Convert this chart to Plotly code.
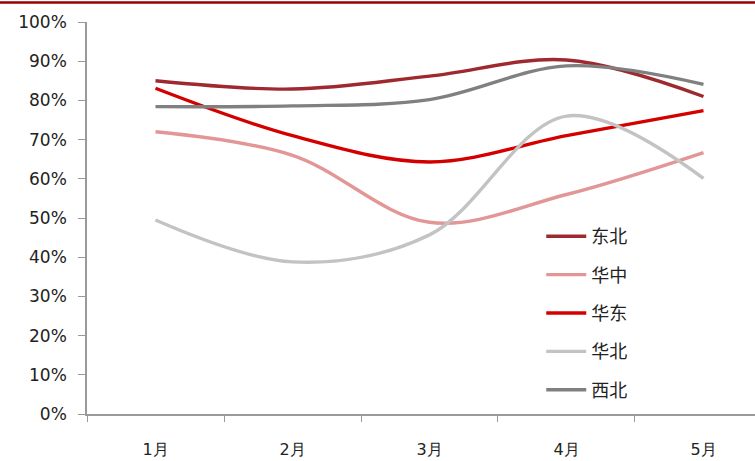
import plotly.graph_objects as go

# Monthly utilisation by region (%)
months = ["1月", "2月", "3月", "4月", "5月"]
dongbei = [85.0, 82.9, 86.2, 90.3, 81.0]
huazhong = [72.0, 66.0, 48.9, 56.0, 66.7]
huadong = [83.1, 71.0, 64.3, 71.0, 77.4]
huabei = [49.5, 38.8, 45.7, 76.0, 60.1]
xibei = [78.4, 78.6, 80.2, 88.8, 84.1]

series = [
    ("东北", dongbei, "#9E2A2F"),
    ("华中", huazhong, "#E29696"),
    ("华东", huadong, "#D40000"),
    ("华北", huabei, "#C3C3C3"),
    ("西北", xibei, "#808080"),
]

fig = go.Figure()
for name, vals, color in series:
    fig.add_trace(go.Scatter(
        x=months, y=vals, name=name, mode="lines", legendgroup=name,
        line=dict(color=color, width=3.4, shape="spline", smoothing=1.0),
    ))

W, H = 755, 461
ml, mt, mb = 87, 22, 47
plot_h = H - mt - mb

fig.update_layout(
    width=W, height=H,
    margin=dict(l=ml, r=0, t=mt, b=mb),
    paper_bgcolor="white", plot_bgcolor="white",
    showlegend=True,
    legend=dict(
        x=0.68, y=0.50, xanchor="left", yanchor="top",
        font=dict(family="Noto Sans CJK SC", size=18, color="#222222"),
        tracegroupgap=12, itemwidth=40,
        bgcolor="rgba(0,0,0,0)",
    ),
    xaxis=dict(
        type="category", range=[-0.5, 4.376],
        showline=True, linecolor="#9a9a9a", linewidth=1.5,
        ticks="outside", tickson="boundaries", ticklen=6,
        tickcolor="#9a9a9a", tickwidth=1.2,
        showgrid=False, zeroline=False,
        tickfont=dict(family="DejaVu Sans", size=16, color="#222222"),
        ticklabelstandoff=20,
    ),
    yaxis=dict(
        range=[0, 100], dtick=10, ticksuffix="%",
        showline=True, linecolor="#9a9a9a", linewidth=1.5,
        ticks="outside", ticklen=7, tickcolor="#9a9a9a", tickwidth=1.2,
        showgrid=False, zeroline=False,
        tickfont=dict(family="DejaVu Sans", size=17, color="#222222"),
        ticklabelstandoff=8,
    ),
    shapes=[dict(
        type="line", xref="paper", yref="paper",
        x0=-ml / (W - ml), x1=1.0,
        y0=1 + (mt - 2.5) / plot_h, y1=1 + (mt - 2.5) / plot_h,
        line=dict(color="#990000", width=2.5),
    )],
)

fig.write_html("out.html")
